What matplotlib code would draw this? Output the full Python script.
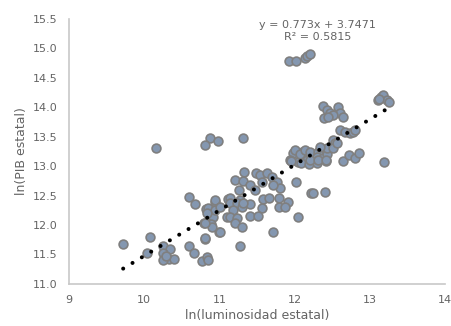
import numpy as np
import matplotlib
matplotlib.use("Agg")
import matplotlib.pyplot as plt

# ln(luminosidad estatal), ln(PIB estatal)
lum = [
    9.72, 10.08, 10.04, 10.16, 10.25, 10.34, 10.25, 10.33, 10.25, 10.40, 10.29,
    10.60, 10.68, 10.60, 10.66, 10.77, 10.84, 10.85, 10.81, 10.82, 10.89, 10.94,
    10.91, 10.99, 10.89, 10.80, 10.88, 10.81, 10.98, 11.11, 11.10, 11.31, 11.33,
    11.49, 11.54, 11.63, 11.70, 11.77, 11.81, 11.21, 11.31, 11.41, 11.47, 11.26,
    11.57, 11.71, 11.58, 11.66, 11.79, 11.91, 11.79, 11.87, 11.57, 11.41, 11.51,
    11.27, 11.14, 10.94, 10.85, 10.94, 11.01, 11.14, 11.23, 11.18, 11.30, 11.41,
    11.31, 11.14, 11.23, 11.21, 11.30, 11.01, 10.90, 10.81, 10.84, 10.81, 11.27,
    11.71, 12.05, 12.02, 12.22, 12.24, 12.40,
    11.98, 12.10, 12.15, 11.94, 12.16, 12.05, 12.01, 12.07, 12.14, 12.20, 12.31,
    12.30, 12.38, 12.42, 12.43, 12.43, 12.34, 11.95, 12.09, 12.19, 12.30, 12.64,
    12.72, 12.80, 12.86, 13.19, 12.20, 12.31, 12.42,
    12.60, 12.67, 12.74, 12.78, 12.80, 12.51, 12.54, 12.51, 12.56,
    12.38, 12.43, 12.47, 12.39, 12.58, 12.60, 12.64, 12.51, 12.44,
    13.11, 13.15, 13.18, 13.23, 13.26, 13.12,
    11.93, 12.02, 12.14, 12.16, 12.20,
]
pib = [
    11.68, 11.80, 11.52, 13.31, 11.65, 11.60, 11.52, 11.42, 11.41, 11.42, 11.47,
    12.48, 12.36, 11.65, 11.53, 11.39, 11.46, 11.41, 11.76, 12.27, 12.26, 12.39,
    12.14, 11.88, 12.02, 12.04, 13.48, 13.36, 13.43, 12.44, 12.14, 13.48, 12.90,
    12.88, 12.85, 12.88, 12.82, 12.73, 12.63, 12.77, 12.75, 12.68, 12.60, 12.60,
    12.73, 12.68, 12.44, 12.46, 12.46, 12.39, 12.31, 12.31, 12.29, 12.15, 12.15,
    12.43, 12.46, 12.43, 12.29, 12.26, 12.31, 12.38, 12.38, 12.26, 12.31, 12.36,
    12.38, 12.14, 12.12, 12.04, 11.97, 11.88, 11.97, 12.04, 12.21, 11.78, 11.65,
    11.88, 12.14, 12.73, 12.55, 12.55, 12.56,
    13.22, 13.24, 13.24, 13.11, 13.11, 13.07, 13.28, 13.21, 13.28, 13.24, 13.24,
    13.16, 13.14, 13.09, 13.21, 13.31, 13.33, 13.09, 13.05, 13.04, 13.05, 13.09,
    13.19, 13.14, 13.22, 13.07, 13.11, 13.11, 13.11,
    13.61, 13.58, 13.56, 13.58, 13.61, 13.44, 13.39, 13.31, 13.39,
    14.02, 13.95, 13.90, 13.82, 14.01, 13.90, 13.84, 13.87, 13.84,
    14.12, 14.17, 14.21, 14.12, 14.09, 14.14,
    14.79, 14.79, 14.84, 14.87, 14.90,
]

slope, intercept = 0.773, 3.7471
r2 = 0.5815

grey = "#646464"
plt.rcParams["font.family"] = ["DejaVu Sans"]

fig = plt.figure(figsize=(4.51, 3.26), dpi=100)
ax = fig.add_axes([0.153, 0.129, 0.834, 0.813])

ax.scatter(lum, pib, s=40, c="#8497b0", edgecolors="#7f7f7f", linewidths=1.2, zorder=2)

xfit = np.array([min(lum), max(lum)])
ax.plot(xfit, slope * xfit + intercept, color="black", lw=2.9,
        linestyle=(0, (0.01, 2.7)), dash_capstyle="round", zorder=3)

ax.text(0.66, 0.995, f"y = {slope}x + {intercept}\nR² = {r2}", transform=ax.transAxes,
        ha="center", va="top", fontsize=8, color=grey, linespacing=1.2)

ax.set_xlim(9, 14)
ax.set_ylim(11, 15.5)
ax.set_xticks(np.arange(9, 15, 1))
ax.set_yticks(np.arange(11, 15.51, 0.5))
ax.set_yticklabels([f"{v:.1f}" for v in np.arange(11, 15.51, 0.5)])
ax.tick_params(length=0, labelsize=8, labelcolor=grey, pad=8)
for s in ["top", "right"]:
    ax.spines[s].set_visible(False)
for s in ["left", "bottom"]:
    ax.spines[s].set_color("#c8c8c8")
    ax.spines[s].set_linewidth(1.2)

ax.set_xlabel("ln(luminosidad estatal)", fontsize=9, color=grey, labelpad=3)
ax.set_ylabel("ln(PIB estatal)", fontsize=9, color=grey, labelpad=4)

fig.savefig("out.png", dpi=100)
